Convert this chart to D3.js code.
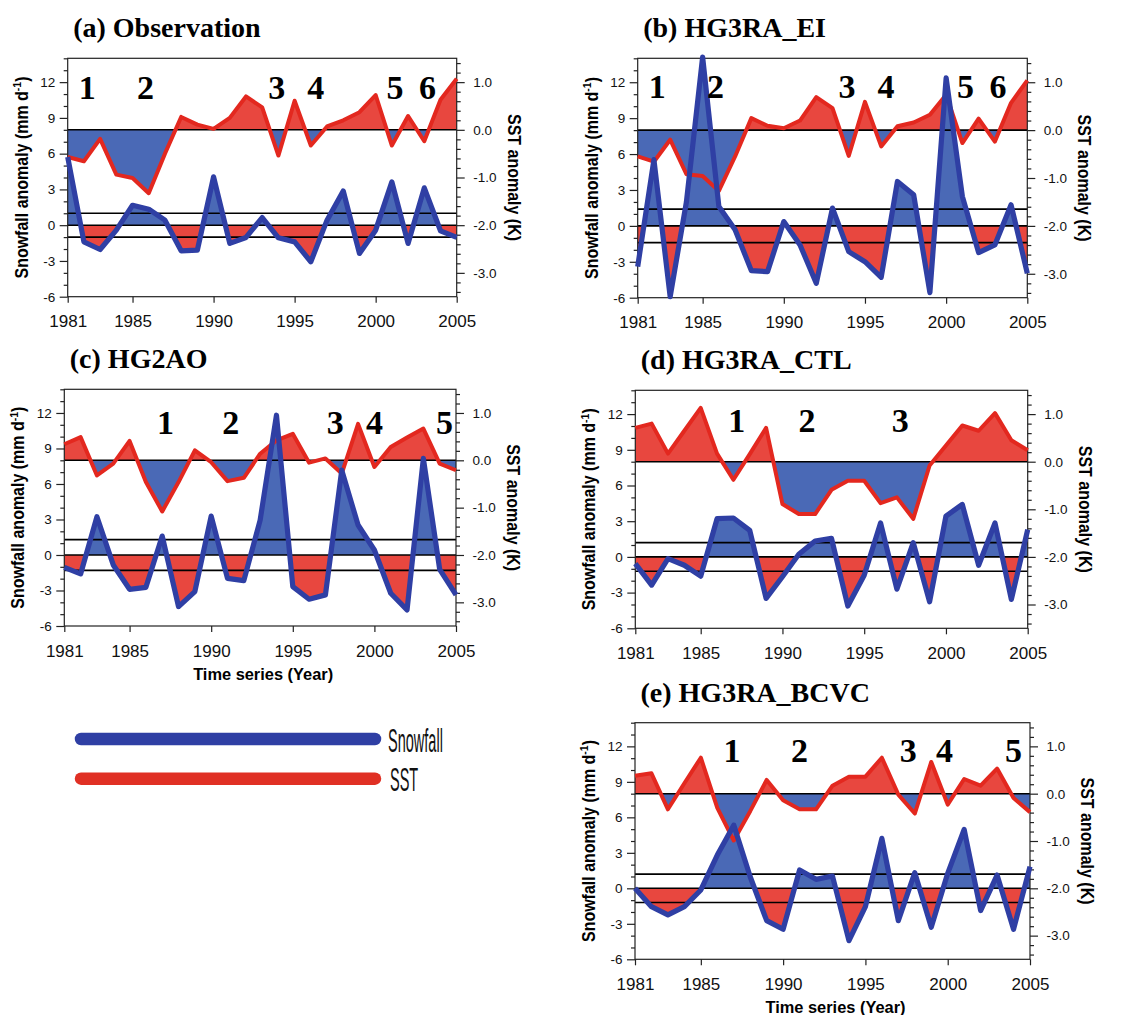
<!DOCTYPE html>
<html>
<head>
<meta charset="utf-8">
<script src="https://cdn.jsdelivr.net/npm/d3@7"></script>
<style>
body { margin: 0; background: #fff; }
svg { display: block; }
</style>
</head>
<body>
<svg width="1143" height="1015"></svg>
<script>
// years on the x axis
var years = [1981, 1982, 1983, 1984, 1985, 1986, 1987, 1988, 1989, 1990, 1991, 1992, 1993,
             1994, 1995, 1996, 1997, 1998, 1999, 2000, 2001, 2002, 2003, 2004, 2005];
var xTicks = [1981, 1985, 1990, 1995, 2000, 2005];
var snowTicks = [-6, -3, 0, 3, 6, 9, 12];
var sstTicks = [-3, -2, -1, 0, 1];

// snowfall anomaly (mm/d), left axis
var snowObs  = [5.72, -1.40, -2.04, -0.42, 1.67, 1.34, 0.42, -2.15, -2.09, 4.05, -1.53, -1.03, 0.64,
                -1.06, -1.40, -3.07, 0.42, 2.87, -2.37, -0.42, 3.63, -1.53, 3.13, -0.47, -1.03];
var snowEI   = [-3.40, 5.53, -5.92, 2.0, 14.1, 1.62, -0.33, -3.74, -3.82, 0.36, -1.59, -4.80, 1.48,
                -2.15, -2.99, -4.30, 3.71, 2.60, -5.58, 12.36, 2.46, -2.23, -1.59, 1.76, -3.96];
var snowAO   = [-1.04, -1.60, 3.23, -0.84, -2.90, -2.73, 1.60, -4.36, -3.09, 3.29, -1.97, -2.17, 2.95,
                11.81, -2.67, -3.74, -3.37, 7.17, 2.53, 0.42, -3.23, -4.64, 8.16, -1.21, -3.37];
var snowCTL  = [-0.56, -2.37, -0.14, -0.70, -1.62, 3.21, 3.27, 2.23, -3.49, -1.67, 0.22, 1.34, 1.56,
                -4.13, -1.54, 2.85, -2.71, 1.20, -3.77, 3.43, 4.41, -0.70, 2.85, -3.57, 2.29];
var snowBCVC = [0.0, -1.55, -2.25, -1.55, -0.14, 2.81, 5.34, 0.98, -2.73, -3.46, 1.55, 0.76, 1.04,
                -4.42, -1.55, 4.22, -2.73, 1.32, -3.29, 1.27, 4.98, -1.88, 1.12, -3.46, 1.83];

// SST anomaly (K), right axis
var sstObs  = [-0.57, -0.66, -0.19, -0.94, -1.01, -1.33, -0.50, 0.27, 0.11, 0.02, 0.25, 0.70, 0.47,
               -0.54, 0.61, -0.33, 0.07, 0.20, 0.37, 0.73, -0.33, 0.29, -0.24, 0.63, 1.07];
var sstEI   = [-0.55, -0.66, -0.20, -0.92, -0.96, -1.27, -0.55, 0.25, 0.09, 0.04, 0.20, 0.69, 0.46,
               -0.54, 0.59, -0.34, 0.08, 0.16, 0.32, 0.74, -0.27, 0.24, -0.24, 0.57, 1.04];
var sstAO   = [0.34, 0.49, -0.32, -0.07, 0.41, -0.46, -1.08, -0.46, 0.21, -0.04, -0.44, -0.37, 0.14,
               0.42, 0.56, -0.05, 0.04, -0.28, 0.77, -0.14, 0.28, 0.48, 0.67, -0.07, -0.21];
var sstCTL  = [0.71, 0.80, 0.17, 0.65, 1.13, 0.17, -0.38, 0.16, 0.71, -0.89, -1.10, -1.10, -0.59,
               -0.40, -0.40, -0.87, -0.75, -1.20, -0.08, 0.34, 0.76, 0.65, 1.02, 0.45, 0.24];
var sstBCVC = [0.38, 0.43, -0.33, 0.22, 0.76, -0.30, -0.99, -0.37, 0.29, -0.14, -0.33, -0.33, 0.17,
               0.36, 0.36, 0.76, -0.02, -0.42, 0.67, -0.23, 0.31, 0.17, 0.53, -0.09, -0.39];

// one standard deviation of snowfall (black lines)
var sdObs = 1.0, sdEI = 1.4, sdAO = 1.3, sdCTL = 1.2, sdBCVC = 1.2;

// event numbers, placed at these years
var eventsObs  = [1982.2, 1985.8, 1993.9, 1996.3, 2001.2, 2003.2];
var eventsEI   = [1982.2, 1985.8, 1993.9, 1996.3, 2001.2, 2003.2];
var eventsAO   = [1987.2, 1991.2, 1997.6, 2000.0, 2004.3];
var eventsCTL  = [1987.2, 1991.5, 1997.2];
var eventsBCVC = [1986.9, 1991.0, 1997.6, 1999.8, 2004.0];

var blueFill = '#4a69b6', blueLine = '#2f3fa4';
var redFill = '#e8473f', redLine = '#e3281f';
var sans = "'Liberation Sans', Arial, Helvetica, sans-serif";
var serif = "'Liberation Serif', 'Times New Roman', serif";

var svg = d3.select('svg');
var defs = svg.append('defs');

var panels = [
  {title: '(a) Observation', snow: snowObs, sst: sstObs, sd: sdObs, events: eventsObs, evY: 10.56,
   left: 67.7, right: 456.7, top: 58.3, bottom: 296.7, xlabel: false},
  {title: '(b) HG3RA_EI', snow: snowEI, sst: sstEI, sd: sdEI, events: eventsEI, evY: 10.7,
   left: 637.7, right: 1027.3, top: 58.3, bottom: 297.7, xlabel: false},
  {title: '(c) HG2AO', snow: snowAO, sst: sstAO, sd: sdAO, events: eventsAO, evY: 10.26,
   left: 64.3, right: 456, top: 389.3, bottom: 626, xlabel: true},
  {title: '(d) HG3RA_CTL', snow: snowCTL, sst: sstCTL, sd: sdCTL, events: eventsCTL, evY: 10.47,
   left: 635.3, right: 1027.7, top: 390.3, bottom: 628.3, xlabel: false},
  {title: '(e) HG3RA_BCVC', snow: snowBCVC, sst: sstBCVC, sd: sdBCVC, events: eventsBCVC, evY: 10.69,
   left: 635, right: 1030, top: 722.7, bottom: 959.3, xlabel: true}
];

panels.forEach(function(p, i) {
  var x = d3.scaleLinear().domain([1981, 2005]).range([p.left, p.right]);
  var y = d3.scaleLinear().domain([-6, 14]).range([p.bottom, p.top]);
  var yR = d3.scaleLinear().domain([-3.5, 1.5]).range([p.bottom, p.top]);
  var g = svg.append('g');

  var snowPts = years.map(function(yr, k) { return {yr: yr, v: p.snow[k]}; });
  var sstPts = years.map(function(yr, k) { return {yr: yr, v: p.sst[k]}; });

  // clip regions above / below each zero line
  function clip(id, y0, y1) {
    defs.append('clipPath').attr('id', id).append('rect')
      .attr('x', p.left - 5).attr('width', p.right - p.left + 10)
      .attr('y', Math.min(y0, y1)).attr('height', Math.abs(y1 - y0));
  }
  clip('sA' + i, p.top - 60, y(0));
  clip('sB' + i, y(0), p.bottom + 60);
  clip('tA' + i, p.top - 60, yR(0));
  clip('tB' + i, yR(0), p.bottom + 60);

  var sstArea = d3.area().x(function(d) { return x(d.yr); })
    .y0(yR(0)).y1(function(d) { return yR(d.v); });
  var snowArea = d3.area().x(function(d) { return x(d.yr); })
    .y0(y(0)).y1(function(d) { return y(d.v); });

  g.append('path').datum(sstPts).attr('d', sstArea).attr('fill', redFill)
    .attr('clip-path', 'url(#tA' + i + ')');
  g.append('path').datum(sstPts).attr('d', sstArea).attr('fill', blueFill)
    .attr('clip-path', 'url(#tB' + i + ')');
  g.append('path').datum(snowPts).attr('d', snowArea).attr('fill', blueFill)
    .attr('clip-path', 'url(#sA' + i + ')');
  g.append('path').datum(snowPts).attr('d', snowArea).attr('fill', redFill)
    .attr('clip-path', 'url(#sB' + i + ')');

  // reference lines
  var refs = [yR(0), y(0), y(p.sd), y(-p.sd)];
  g.selectAll('line.ref').data(refs).enter().append('line')
    .attr('x1', p.left).attr('x2', p.right)
    .attr('y1', function(d) { return d; }).attr('y2', function(d) { return d; })
    .attr('stroke', '#000').attr('stroke-width', 1.6);

  // frame
  g.append('rect').attr('x', p.left).attr('y', p.top)
    .attr('width', p.right - p.left).attr('height', p.bottom - p.top)
    .attr('fill', 'none').attr('stroke', '#222').attr('stroke-width', 1.2);

  // left axis, major + minor
  var minorL = d3.range(-6, 15).filter(function(v) { return v % 3 !== 0; });
  var ax = g.append('g').attr('transform', 'translate(' + p.left + ',0)')
    .call(d3.axisLeft(y).tickValues(snowTicks).tickSize(8).tickSizeOuter(0).tickPadding(4.5)
      .tickFormat(function(d) { return String(d); }));
  ax.append('g').call(d3.axisLeft(y).tickValues(minorL).tickSize(4).tickFormat(''));
  // right axis
  var minorR = d3.range(-34, 15, 2).map(function(v) { return v / 10; })
    .filter(function(v) { return Math.abs(v - Math.round(v)) > 0.01; });
  var axr = g.append('g').attr('transform', 'translate(' + p.right + ',0)')
    .call(d3.axisRight(yR).tickValues(sstTicks).tickSize(8).tickSizeOuter(0).tickPadding(8.5)
      .tickFormat(function(d) { return d.toFixed(1); }));
  axr.append('g').call(d3.axisRight(yR).tickValues(minorR).tickSize(4).tickFormat(''));
  // bottom axis
  var axb = g.append('g').attr('transform', 'translate(0,' + p.bottom + ')')
    .call(d3.axisBottom(x).tickValues(xTicks).tickSize(6).tickSizeOuter(0).tickPadding(12.5)
      .tickFormat(function(d) { return String(d); }));

  [ax, axr, axb].forEach(function(a) {
    a.selectAll('.domain').remove();
    a.selectAll('line').attr('stroke', '#222').attr('stroke-width', 1.2);
  });
  ax.selectAll('text').attr('font-family', sans).attr('font-size', 13.5).attr('fill', '#111');
  axr.selectAll('text').attr('font-family', sans).attr('font-size', 13.5).attr('fill', '#111');
  axb.selectAll('text').attr('font-family', sans).attr('font-size', 17).attr('fill', '#111');

  // data lines
  g.append('path').datum(sstPts)
    .attr('d', d3.line().x(function(d) { return x(d.yr); }).y(function(d) { return yR(d.v); }))
    .attr('fill', 'none').attr('stroke', redLine).attr('stroke-width', 4)
    .attr('stroke-linejoin', 'round');
  g.append('path').datum(snowPts)
    .attr('d', d3.line().x(function(d) { return x(d.yr); }).y(function(d) { return y(d.v); }))
    .attr('fill', 'none').attr('stroke', blueLine).attr('stroke-width', 5.2)
    .attr('stroke-linejoin', 'round');

  // event numbers
  g.selectAll('text.ev').data(p.events).enter().append('text')
    .attr('x', function(d) { return x(d); }).attr('y', y(p.evY))
    .attr('text-anchor', 'middle')
    .attr('font-family', serif).attr('font-weight', 'bold').attr('font-size', 34)
    .text(function(d, k) { return k + 1; });

  // title
  g.append('text').attr('x', p.left + 5.5).attr('y', p.top - 21)
    .attr('font-family', serif).attr('font-weight', 'bold').attr('font-size', 28)
    .text(p.title);

  // axis titles
  var cy = (p.top + p.bottom) / 2;
  var lt = g.append('text')
    .attr('transform', 'translate(' + (p.left - 40) + ',' + cy + ') rotate(-90) scale(1,1.12)')
    .attr('text-anchor', 'middle')
    .attr('font-family', sans).attr('font-weight', 'bold').attr('font-size', 16);
  lt.append('tspan').text('Snowfall anomaly (mm d');
  lt.append('tspan').attr('dy', -6).attr('font-size', 10.5).text('-1');
  lt.append('tspan').attr('dy', 6).text(')');

  g.append('text')
    .attr('transform', 'translate(' + (p.right + 51) + ',' + cy + ') rotate(90) scale(1,1.12)')
    .attr('text-anchor', 'middle')
    .attr('font-family', sans).attr('font-weight', 'bold').attr('font-size', 16)
    .text('SST anomaly (K)');

  if (p.xlabel) {
    g.append('text').attr('x', (p.left + p.right) / 2 + 3).attr('y', p.bottom + 54)
      .attr('text-anchor', 'middle')
      .attr('font-family', sans).attr('font-weight', 'bold').attr('font-size', 16.4)
      .text('Time series (Year)');
  }
});

// legend
var legendItems = ['Snowfall', 'SST'];
var legendColors = [blueLine, '#e03024'];
var leg = svg.append('g');
leg.selectAll('line').data(legendItems).enter().append('line')
  .attr('x1', 81).attr('x2', 375)
  .attr('y1', function(d, k) { return 739 + k * 39.7; })
  .attr('y2', function(d, k) { return 739 + k * 39.7; })
  .attr('stroke', function(d, k) { return legendColors[k]; })
  .attr('stroke-width', 12.5).attr('stroke-linecap', 'round');
leg.selectAll('text').data(legendItems).enter().append('text')
  .attr('transform', function(d, k) {
    return 'translate(' + (388 + k * 2) + ',' + (751.7 + k * 39) + ') scale(0.44,1)';
  })
  .attr('font-family', sans).attr('font-size', 33).attr('fill', '#111')
  .text(function(d) { return d; });
</script>
</body>
</html>
